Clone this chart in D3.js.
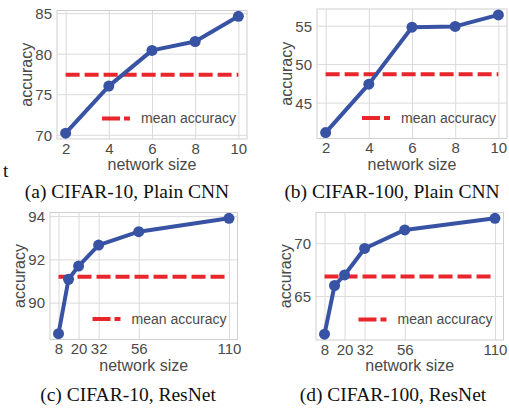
<!DOCTYPE html>
<html>
<head>
<meta charset="utf-8">
<script src="https://cdn.jsdelivr.net/npm/d3@7"></script>
<style>
  html, body { margin: 0; padding: 0; background: #fff; }
  svg { display: block; }
</style>
</head>
<body>
<svg id="chart" width="509" height="410"></svg>
<script>
// ---- data ----
const sizesPlain = [2, 4, 6, 8, 10];
const ticksPlain = [2, 4, 6, 8, 10];
const accC10Plain = [70.2, 76.0, 80.4, 81.5, 84.6];
const meanC10Plain = 77.4;
const accC100Plain = [41.1, 47.4, 54.8, 54.9, 56.4];
const meanC100Plain = 48.7;

const sizesRes = [8, 14, 20, 32, 56, 110];
const ticksRes = [8, 20, 32, 56, 110];
const accC10Res = [88.56, 91.08, 91.69, 92.66, 93.28, 93.9];
const meanC10Res = 91.2;
const accC100Res = [61.4, 66.0, 67.0, 69.5, 71.25, 72.35];
const meanC100Res = 66.85;

const yTicksA = [70, 75, 80, 85];
const yTicksB = [45, 50, 55];
const yTicksC = [90, 92, 94];
const yTicksD = [65, 70];

const captions = ["(a) CIFAR-10, Plain CNN", "(b) CIFAR-100, Plain CNN",
                  "(c) CIFAR-10, ResNet", "(d) CIFAR-100, ResNet"];

// ---- layout ----
const panels = [
  { x: sizesPlain, y: accC10Plain, mean: meanC10Plain, xt: ticksPlain, yt: yTicksA, box: [57, 247, 10.5, 139], cap: captions[0], capX: 127, capY: 198 },
  { x: sizesPlain, y: accC100Plain, mean: meanC100Plain, xt: ticksPlain, yt: yTicksB, box: [317, 507, 9, 138.5], cap: captions[1], capX: 392, capY: 198 },
  { x: sizesRes, y: accC10Res, mean: meanC10Res, xt: ticksRes, yt: yTicksC, box: [50, 237.5, 212.5, 339.5], cap: captions[2], capX: 128, capY: 401 },
  { x: sizesRes, y: accC100Res, mean: meanC100Res, xt: ticksRes, yt: yTicksD, box: [316, 503.5, 212.5, 340], cap: captions[3], capX: 393, capY: 401 }
];

const BLUE = "#3853a4";
const RED = "#e8262b";
const GRID = "#dadada";
const TXT = "#4a4a4a";
const SANS = "'Liberation Sans', Arial, sans-serif";
const SERIF = "'Liberation Serif', 'Times New Roman', serif";

const svg = d3.select("#chart");

function padded(ext) {
  const r = ext[1] - ext[0];
  return [ext[0] - 0.05 * r, ext[1] + 0.05 * r];
}

panels.forEach(p => {
  const [l, r, t, b] = p.box;
  const xs = d3.scaleLinear().domain(padded(d3.extent(p.x))).range([l, r]);
  const ys = d3.scaleLinear().domain(padded(d3.extent(p.y))).range([b, t]);
  const g = svg.append("g");

  // grid lines
  g.append("g").attr("transform", `translate(0,${b})`)
    .call(d3.axisBottom(xs).tickValues(p.xt).tickSize(-(b - t)).tickFormat(""))
    .call(s => s.select(".domain").remove())
    .call(s => s.selectAll("line").attr("stroke", GRID).attr("stroke-width", 1));
  g.append("g").attr("transform", `translate(${l},0)`)
    .call(d3.axisLeft(ys).tickValues(p.yt).tickSize(-(r - l)).tickFormat(""))
    .call(s => s.select(".domain").remove())
    .call(s => s.selectAll("line").attr("stroke", GRID).attr("stroke-width", 1));

  // frame
  g.append("rect").attr("x", l).attr("y", t).attr("width", r - l).attr("height", b - t)
    .attr("fill", "none").attr("stroke", "#cfcfcf").attr("stroke-width", 1);

  // tick labels
  g.append("g").attr("transform", `translate(0,${b})`)
    .call(d3.axisBottom(xs).tickValues(p.xt).tickSize(0).tickPadding(0).tickFormat(d3.format("d")))
    .call(s => s.select(".domain").remove())
    .call(s => s.selectAll("text").attr("y", 14.5).attr("dy", 0)
      .attr("fill", TXT).style("font-family", SANS).style("font-size", "15px"));
  g.append("g").attr("transform", `translate(${l},0)`)
    .call(d3.axisLeft(ys).tickValues(p.yt).tickSize(0).tickPadding(5).tickFormat(d3.format("d")))
    .call(s => s.select(".domain").remove())
    .call(s => s.selectAll("text").attr("dy", "0.36em")
      .attr("fill", TXT).style("font-family", SANS).style("font-size", "15px"));

  // mean line
  g.append("line")
    .attr("x1", xs(p.x[0])).attr("x2", xs(p.x[p.x.length - 1]))
    .attr("y1", ys(p.mean)).attr("y2", ys(p.mean))
    .attr("stroke", RED).attr("stroke-width", 4).attr("stroke-dasharray", "14,5");

  // data line
  const pts = p.x.map((v, i) => [v, p.y[i]]);
  g.append("path").datum(pts)
    .attr("d", d3.line().x(d => xs(d[0])).y(d => ys(d[1])))
    .attr("fill", "none").attr("stroke", BLUE).attr("stroke-width", 4).attr("stroke-linejoin", "round");
  g.selectAll("circle.pt").data(pts).join("circle")
    .attr("cx", d => xs(d[0])).attr("cy", d => ys(d[1])).attr("r", 5.5).attr("fill", BLUE);

  // legend
  const ly = b - 20.5;
  g.append("line").attr("x1", r - 145).attr("x2", r - 117).attr("y1", ly).attr("y2", ly)
    .attr("stroke", RED).attr("stroke-width", 4).attr("stroke-dasharray", "18,4");
  g.append("text").attr("x", r - 106).attr("y", ly).attr("dy", "0.33em")
    .attr("fill", TXT).style("font-family", SANS).style("font-size", "14px").text("mean accuracy");

  // axis labels
  g.append("text").attr("x", (l + r) / 2).attr("y", b + 31).attr("text-anchor", "middle")
    .attr("fill", TXT).style("font-family", SANS).style("font-size", "16px").text("network size");
  g.append("text").attr("transform", `translate(${l - 25},${(t + b) / 2}) rotate(-90)`)
    .attr("text-anchor", "middle")
    .attr("fill", TXT).style("font-family", SANS).style("font-size", "16px").text("accuracy");

  // caption
  svg.append("text").attr("x", p.capX).attr("y", p.capY).attr("text-anchor", "middle")
    .attr("fill", "#111").style("font-family", SERIF).style("font-size", "19.5px").text(p.cap);
});

// stray letter in the source figure
svg.append("text").attr("x", 3).attr("y", 177).attr("fill", "#111")
  .style("font-family", SERIF).style("font-size", "19.5px").text("t");
</script>
</body>
</html>
